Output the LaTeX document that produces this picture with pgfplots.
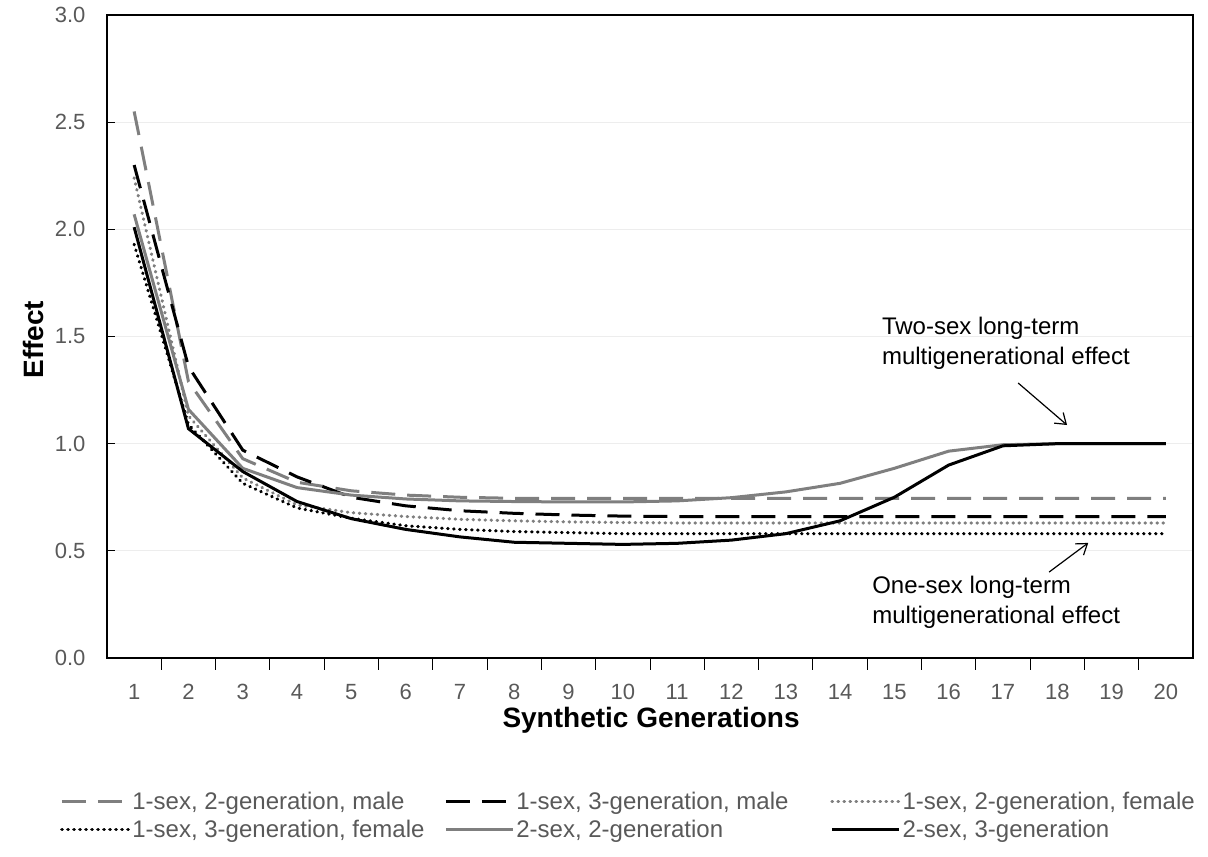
\documentclass[border=0pt]{standalone}
\usepackage{pgfplots}
\pgfplotsset{compat=1.18}
\usepackage{fontspec}
\setmainfont{Liberation Sans}
\usetikzlibrary{arrows.meta}
\definecolor{lgray}{HTML}{7F7F7F}
\definecolor{txtgray}{HTML}{595959}
\definecolor{gridc}{HTML}{EDEDED}

\pgfplotstableread{
gen  gdash  bdash  gdot   bdot   gsol   bsol
1    2.55   2.30   2.24   1.93   2.07   2.01
2    1.29   1.36   1.13   1.09   1.16   1.07
3    0.93   0.97   0.84   0.815  0.885  0.87
4    0.82   0.845  0.714  0.70   0.795  0.73
5    0.78   0.75   0.678  0.652  0.76   0.65
6    0.76   0.71   0.66   0.617  0.742  0.60
7    0.75   0.687  0.647  0.60   0.733  0.565
8    0.745  0.675  0.64   0.59   0.73   0.54
9    0.745  0.667  0.635  0.585  0.728  0.535
10   0.745  0.662  0.632  0.58   0.728  0.53
11   0.745  0.66   0.63   0.58   0.733  0.535
12   0.745  0.66   0.63   0.58   0.748  0.55
13   0.745  0.66   0.63   0.58   0.775  0.58
14   0.745  0.66   0.63   0.58   0.815  0.64
15   0.745  0.66   0.63   0.58   0.885  0.75
16   0.745  0.66   0.63   0.58   0.965  0.90
17   0.745  0.66   0.63   0.58   0.995  0.99
18   0.745  0.66   0.63   0.58   1.00   1.00
19   0.745  0.66   0.63   0.58   1.00   1.00
20   0.745  0.66   0.63   0.58   1.00   1.00
}\effects

\begin{document}
\begin{tikzpicture}[x=1pt,y=1pt]
\useasboundingbox (0,0) rectangle (1208,857);
\begin{axis}[
  at={(107pt,199pt)}, anchor=south west,
  scale only axis, width=1086pt, height=643pt,
  xmin=0.5, xmax=20.5, ymin=0, ymax=3,
  axis line style={black, line width=1.3pt},
  tick pos=left, tick align=inside,
  xtick={1,...,20},
  major x tick style={draw=none},
  minor x tick num=1,
  minor tick length=12pt,
  minor x tick style={black, line width=0.9pt, yshift=-12pt},
  ytick={0,0.5,...,3},
  major tick length=8pt,
  ytick style={black, line width=0.9pt},
  ymajorgrids, grid style={gridc, line width=1pt},
  /pgf/number format/assume math mode=true,
  yticklabel={\pgfmathprintnumber[fixed,fixed zerofill,precision=1]{\tick}},
  tick label style={font=\fontsize{22}{26}\selectfont, text=txtgray},
  xticklabel style={yshift=-23pt, font=\fontsize{22}{26}\selectfont},
  yticklabel style={xshift=-18pt, font=\fontsize{22}{26}\selectfont},
  xlabel={Synthetic Generations},
  ylabel={Effect},
  label style={font=\bfseries\fontsize{28}{32}\selectfont},
  xlabel style={at={(axis description cs:0.501,-0.097)}, anchor=center},
  ylabel style={at={(axis description cs:-0.068,0.495)}, anchor=center},
  legend columns=3,
  legend cell align=left,
  legend style={draw=none, fill=none, at={(axis description cs:0,0)}, anchor=north west,
    xshift=-50pt, yshift=-130pt, font=\fontsize{24}{28}\selectfont,
    text=txtgray, row sep=5pt,
    nodes={inner sep=2pt}},
  legend image code/.code={\draw[#1] (0pt,0pt) -- (67pt,0pt);},
]
\addplot[lgray, line width=3pt, dash pattern=on 24pt off 12pt] table[x=gen,y=gdash] {\effects};
\addlegendentry{\makebox[310pt][l]{1-sex, 2-generation, male}}
\addplot[black, line width=3pt, dash pattern=on 24pt off 12pt] table[x=gen,y=bdash] {\effects};
\addlegendentry{\makebox[312pt][l]{1-sex, 3-generation, male}}
\addplot[lgray, line width=3.2pt, line cap=round, dash pattern=on 0.5pt off 5.5pt] table[x=gen,y=gdot] {\effects};
\addlegendentry{1-sex, 2-generation, female}
\addplot[black, line width=3.2pt, line cap=round, dash pattern=on 0.5pt off 5.5pt] table[x=gen,y=bdot] {\effects};
\addlegendentry{\makebox[310pt][l]{1-sex, 3-generation, female}}
\addplot[lgray, line width=3pt] table[x=gen,y=gsol] {\effects};
\addlegendentry{\makebox[312pt][l]{2-sex, 2-generation}}
\addplot[black, line width=3pt] table[x=gen,y=bsol] {\effects};
\addlegendentry{2-sex, 3-generation}

\node[anchor=north east, font=\fontsize{20}{24}\selectfont, inner sep=0pt] at (axis cs:0.5,1) [xshift=-4pt, yshift=-13pt] {(no effect)};
\node[anchor=west, align=left, font=\fontsize{24}{30}\selectfont, inner sep=0pt] at (axis cs:14.77,1.47) {Two-sex long-term\\multigenerational effect};
\node[anchor=west, align=left, font=\fontsize{24}{30}\selectfont, inner sep=0pt] at (axis cs:14.59,0.26) {One-sex long-term\\multigenerational effect};
\draw[-{Straight Barb[length=10pt,width=14pt]}, line width=1.2pt] (axis cs:17.28,1.283) -- (axis cs:18.18,1.087);
\draw[-{Straight Barb[length=10pt,width=14pt]}, line width=1.2pt] (axis cs:17.85,0.401) -- (axis cs:18.57,0.537);
\end{axis}
\end{tikzpicture}
\end{document}
